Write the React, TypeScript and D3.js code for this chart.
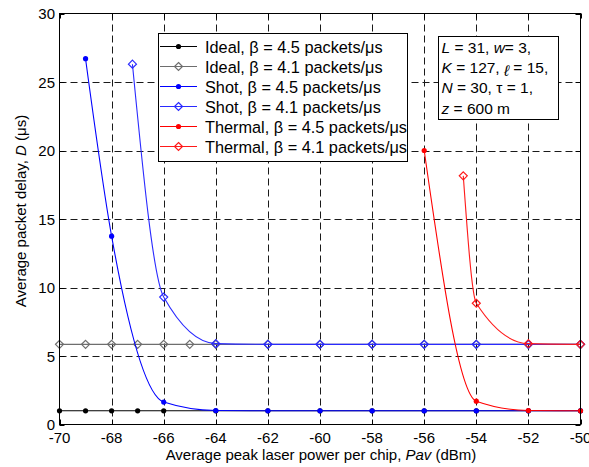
// 平均包延迟 vs 平均峰值激光功率 折线图
import React, { useRef, useEffect } from 'react';
import * as d3 from 'd3';

// x轴刻度与y轴刻度
const xTicks = [-70, -68, -66, -64, -62, -60, -58, -56, -54, -52, -50];
const yTicks = [0, 5, 10, 15, 20, 25, 30];

// Ideal, β = 4.5
const idealX45 = [-70, -69, -68, -67, -66, -64, -62, -60, -58, -56, -54, -52, -50];
const idealD45 = [1, 1, 1, 1, 1, 1, 1, 1, 1, 1, 1, 1, 1];
// Ideal, β = 4.1
const idealX41 = [-70, -69, -68, -67, -66, -65, -64, -62, -60, -58, -56, -54, -52, -50];
const idealD41 = [5.85, 5.85, 5.85, 5.85, 5.85, 5.85, 5.85, 5.85, 5.85, 5.85, 5.85, 5.85, 5.85, 5.85];
// Shot, β = 4.5
const shotX45 = [-69, -68, -66, -64, -62, -60, -58, -56, -54, -52, -50];
const shotD45 = [26.7, 13.75, 1.64, 1.02, 1, 1, 1, 1, 1, 1, 1];
// Shot, β = 4.1
const shotX41 = [-67.2, -66, -64, -62, -60, -58, -56, -54, -52, -50];
const shotD41 = [26.3, 9.3, 5.9, 5.85, 5.85, 5.85, 5.85, 5.85, 5.85, 5.85];
// Thermal, β = 4.5
const thermalX45 = [-56, -54, -52, -50];
const thermalD45 = [20, 1.7, 1.02, 1];
// Thermal, β = 4.1
const thermalX41 = [-54.5, -54, -52, -50];
const thermalD41 = [18.15, 8.85, 5.9, 5.85];

const seriesList = [
  { name: 'Ideal', beta: '4.5', xs: idealX45, ys: idealD45, color: '#000000', marker: 'dot' },
  { name: 'Ideal', beta: '4.1', xs: idealX41, ys: idealD41, color: '#6e6e6e', marker: 'diamond' },
  { name: 'Shot', beta: '4.5', xs: shotX45, ys: shotD45, color: '#0000ff', marker: 'dot' },
  { name: 'Shot', beta: '4.1', xs: shotX41, ys: shotD41, color: '#2a2aff', marker: 'diamond' },
  { name: 'Thermal', beta: '4.5', xs: thermalX45, ys: thermalD45, color: '#ff0000', marker: 'dot' },
  { name: 'Thermal', beta: '4.1', xs: thermalX41, ys: thermalD41, color: '#ff1a1a', marker: 'diamond' },
];

const FONT = '"Liberation Sans", Arial, sans-serif';

const App = () => {
  const ref = useRef<SVGSVGElement>(null);

  useEffect(() => {
    const svg = d3.select(ref.current);
    svg.selectAll('*').remove();

    const left = 59.5, right = 580.5, top = 13.5, bottom = 424.5;
    const xScale = d3.scaleLinear().domain([-70, -50]).range([left, right]);
    const yScale = d3.scaleLinear().domain([0, 30]).range([bottom, top]);

    // 背景
    svg.append('rect').attr('width', 589).attr('height', 467).attr('fill', '#fff');

    // 网格线（虚线）
    const grid = svg.append('g').attr('stroke', '#1a1a1a').attr('stroke-width', 1).attr('stroke-dasharray', '7,4');
    xTicks.slice(1, -1).forEach(t => {
      grid.append('line').attr('x1', Math.round(xScale(t)) + 0.5).attr('x2', Math.round(xScale(t)) + 0.5)
        .attr('y1', top).attr('y2', bottom);
    });
    yTicks.slice(1, -1).forEach(t => {
      grid.append('line').attr('y1', Math.round(yScale(t)) + 0.5).attr('y2', Math.round(yScale(t)) + 0.5)
        .attr('x1', left).attr('x2', right);
    });

    // 曲线
    const lineGen = d3.line<[number, number]>()
      .x(d => xScale(d[0]))
      .y(d => yScale(d[1]))
      .curve(d3.curveMonotoneX);

    const drawMarker = (g: any, cx: number, cy: number, type: string, color: string) => {
      if (type === 'dot') {
        g.append('circle').attr('cx', cx).attr('cy', cy).attr('r', 2.6).attr('fill', color);
      } else {
        const s = 4;
        g.append('path')
          .attr('d', `M${cx},${cy - s}L${cx + s},${cy}L${cx},${cy + s}L${cx - s},${cy}Z`)
          .attr('fill', 'none').attr('stroke', color).attr('stroke-width', 1.2);
      }
    };

    const plot = svg.append('g');
    seriesList.forEach(s => {
      const pts = s.xs.map((x, i) => [x, s.ys[i]] as [number, number]);
      plot.append('path').attr('d', lineGen(pts)).attr('fill', 'none')
        .attr('stroke', s.color).attr('stroke-width', 1.1);
      pts.forEach(p => drawMarker(plot, xScale(p[0]), yScale(p[1]), s.marker, s.color));
    });

    // 坐标框与刻度
    const axes = svg.append('g').attr('stroke', '#000').attr('stroke-width', 1);
    axes.append('rect').attr('x', left).attr('y', top).attr('width', right - left).attr('height', bottom - top)
      .attr('fill', 'none');
    xTicks.forEach(t => {
      const x = Math.round(xScale(t)) + 0.5;
      axes.append('line').attr('x1', x).attr('x2', x).attr('y1', bottom).attr('y2', bottom - 5);
      axes.append('line').attr('x1', x).attr('x2', x).attr('y1', top).attr('y2', top + 5);
    });
    yTicks.forEach(t => {
      const y = Math.round(yScale(t)) + 0.5;
      axes.append('line').attr('y1', y).attr('y2', y).attr('x1', left).attr('x2', left + 5);
      axes.append('line').attr('y1', y).attr('y2', y).attr('x1', right).attr('x2', right - 5);
    });

    // 刻度标签
    const labels = svg.append('g').attr('font-family', FONT).attr('font-size', 15).attr('fill', '#000');
    xTicks.forEach(t => {
      labels.append('text').attr('x', xScale(t)).attr('y', bottom + 18.5).attr('text-anchor', 'middle').text(t);
    });
    yTicks.forEach(t => {
      labels.append('text').attr('x', left - 4.5).attr('y', yScale(t) + 5.5).attr('text-anchor', 'end').text(t);
    });

    // 坐标轴标题
    const xLabel = labels.append('text').attr('x', 321).attr('y', 460).attr('text-anchor', 'middle');
    xLabel.append('tspan').text('Average peak laser power per chip, ');
    xLabel.append('tspan').attr('font-style', 'italic').text('Pav');
    xLabel.append('tspan').text(' (dBm)');

    const yLabel = labels.append('text').attr('transform', 'translate(26, 211) rotate(-90)')
      .attr('text-anchor', 'middle');
    yLabel.append('tspan').text('Average packet delay, ');
    yLabel.append('tspan').attr('font-style', 'italic').text('D');
    yLabel.append('tspan').text(' (μs)');

    // 图例
    const legend = svg.append('g');
    legend.append('rect').attr('x', 158.5).attr('y', 33.5).attr('width', 249).attr('height', 128)
      .attr('fill', '#fff').attr('stroke', '#000').attr('stroke-width', 1);
    seriesList.forEach((s, i) => {
      const y = 46.5 + i * 20;
      legend.append('line').attr('x1', 160).attr('x2', 197).attr('y1', y).attr('y2', y)
        .attr('stroke', s.color).attr('stroke-width', 1.1);
      drawMarker(legend, 178.5, y, s.marker, s.color);
      legend.append('text').attr('x', 205).attr('y', y + 6).attr('font-family', FONT).attr('font-size', 16.3)
        .text(`${s.name}, β = ${s.beta} packets/μs`);
    });

    // 参数注释框
    const note = svg.append('g').attr('font-family', FONT).attr('font-size', 15.5);
    note.append('rect').attr('x', 438.5).attr('y', 36.5).attr('width', 120).attr('height', 83)
      .attr('fill', '#fff').attr('stroke', '#000').attr('stroke-width', 1);
    // 每段：文字、是否斜体、相对上一段的竖直偏移
    const noteLines = [
      [['L', true, 0], [' = 31, ', false, 0], ['w', true, 0], ['= 3,', false, 0]],
      [['K', true, 0], [' = 127, ', false, 0], ['ℓ', true, 3], [' = 15,', false, -3]],
      [['N', true, 0], [' = 30, τ = 1,', false, 0]],
      [['z', true, 0], [' = 600 m', false, 0]],
    ];
    noteLines.forEach((ln, i) => {
      const t = note.append('text').attr('x', 441.5).attr('y', 53 + i * 20.2);
      ln.forEach(([txt, it, dy]) => {
        const sp = t.append('tspan').attr('font-style', it ? 'italic' : 'normal').text(txt as string);
        if (dy) sp.attr('dy', dy as number);
      });
    });
  }, []);

  return <svg ref={ref} width="589" height="467" style={{ position: 'absolute', left: 0, top: 0 }}></svg>;
};

export default App;
